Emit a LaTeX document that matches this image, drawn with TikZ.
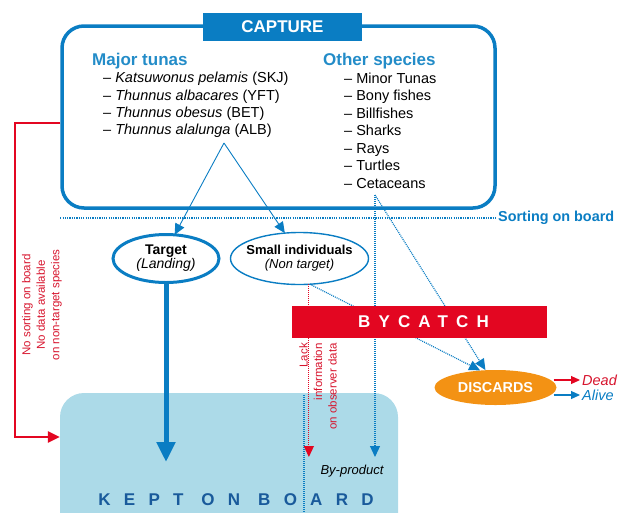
\documentclass[tikz,border=0pt]{standalone}
\usepackage{fontspec}
\setmainfont{Liberation Sans}
\usetikzlibrary{arrows.meta,shapes.geometric}

\definecolor{capblue}{RGB}{10,125,195}
\definecolor{headblue}{RGB}{35,140,200}
\definecolor{keptfill}{RGB}{172,218,232}
\definecolor{kepttext}{RGB}{25,90,155}
\definecolor{byred}{RGB}{227,6,33}
\definecolor{textred}{RGB}{215,20,45}
\definecolor{discorange}{RGB}{243,146,20}

\tikzset{
    head/.style={anchor=base west, inner sep=0, text=headblue, font=\fontsize{17}{20}\selectfont\bfseries},
    item/.style={anchor=base west, inner sep=0, font=\fontsize{14.5}{17}\selectfont},
    oval/.style={ellipse, draw=capblue, inner sep=0, outer sep=0},
    blueline/.style={capblue, line width=0.9pt, -{Triangle[length=11pt,width=10pt]}},
    dotblue/.style={capblue, line width=1.2pt, dash pattern=on 1pt off 1pt, -{Triangle[length=11pt,width=10pt]}},
    dotred/.style={byred, line width=1.2pt, dash pattern=on 1pt off 1pt, -{Triangle[length=11pt,width=10pt]}},
    redtext/.style={text=textred, rotate=90, inner sep=0, font=\fontsize{11.5}{14.5}\selectfont}
}

\begin{document}
\begin{tikzpicture}[x=1pt, y=-1pt]
    \useasboundingbox (0,0) rectangle (618,512);

    % kept on board
    \node[fill=keptfill, rounded corners=24, minimum width=338, minimum height=160, inner sep=0] (kept) at (229,473) {};
    \node[anchor=base, text=kepttext, font=\fontsize{17}{19}\selectfont\bfseries\addfontfeature{LetterSpace=78}] (keptlbl) at (236,505) {KEPT ON BOARD};
    \coordinate (divtop) at (304,395);
    \draw[dotblue, -] (divtop) -- (divtop |- kept.south);

    % capture box
    \node[draw=capblue, line width=3.5pt, rounded corners=22, minimum width=433, minimum height=182, inner sep=0] (capture) at (278.5,117) {};
    \node[fill=capblue, text=white, minimum width=159, minimum height=28, inner sep=0, font=\fontsize{17}{20}\selectfont\bfseries] (captitle) at (282.5,27) {CAPTURE};

    \node[head] (major) at (92,65) {Major tunas};
    \node[item] (skj) at (103,82.7) {-- \textit{Katsuwonus pelamis} (SKJ)};
    \node[item] (yft) at (103,100.1) {-- \textit{Thunnus albacares} (YFT)};
    \node[item] (bet) at (103,117.5) {-- \textit{Thunnus obesus} (BET)};
    \node[item] (alb) at (103,134.9) {-- \textit{Thunnus alalunga} (ALB)};

    \node[head] (other) at (323,65) {Other species};
    \foreach \sp [count=\i] in {Minor Tunas, Bony fishes, Billfishes, Sharks, Rays, Turtles, Cetaceans}
        \node[item] (sp\i) at (344, 65.7 + 17.5 * \i) {-- \sp};

    % sorting
    \node[anchor=west, inner sep=0, text=capblue, font=\fontsize{14.4}{17}\selectfont\bfseries] (sort) at (498,218) {Sorting on board};
    \draw[capblue, line width=1.4pt, dash pattern=on 1.2pt off 1.1pt] (sort.west -| capture.west) -- ([xshift=-3pt]sort.west);

    \node[oval, line width=3pt, minimum width=106, minimum height=48,
          label={[align=center, inner sep=0, font=\fontsize{14}{14}\selectfont]center:{\textbf{Target}\\\textit{(Landing)}}}] (target) at (166,258.5) {};
    \node[oval, line width=1.4pt, minimum width=138, minimum height=52,
          label={[align=center, inner sep=0, font=\fontsize{13}{14}\selectfont]center:{\textbf{Small individuals}\\\textit{(Non target)}}}] (small) at (299.5,258.5) {};

    \coordinate (split) at (224,143);
    \draw[blueline] (split) -- (target.70);
    \draw[blueline] (split) -- (small.120);

    \coordinate (keeptip) at (0,462);
    \draw[capblue, line width=5pt, -{Triangle[length=20pt,width=18pt]}] (target.south) -- (target.south |- keeptip);

    % discards
    \node[ellipse, fill=discorange, minimum width=122, minimum height=35, inner sep=0, text=white, font=\fontsize{14.4}{16}\selectfont\bfseries] (discards) at (495.5,387.5) {DISCARDS};
    \node[anchor=west, inner sep=2pt, text=textred, font=\fontsize{14.5}{16}\selectfont\itshape] (dead) at (580,380) {Dead};
    \node[anchor=west, inner sep=2pt, text=capblue, font=\fontsize{14.5}{16}\selectfont\itshape] (alive) at (580,395) {Alive};
    \draw[byred, line width=1.2pt, -{Triangle[length=9pt,width=8pt]}] ([xshift=-3pt]discards.east |- dead.west) -- (dead.west);
    \draw[capblue, line width=1.2pt, -{Triangle[length=9pt,width=8pt]}] ([xshift=-3pt]discards.east |- alive.west) -- (alive.west);

    % dotted flows
    \coordinate (cetfoot) at (375,195);
    \coordinate (bytip) at (0,457);
    \draw[dotblue] (cetfoot) -- (cetfoot |- bytip);
    \draw[dotblue] (cetfoot) -- (discards.120);
    \draw[dotred] (small.-70) -- (small.-70 |- bytip);
    \draw[dotblue] (small.-68) -- (discards.132);

    % bycatch
    \node[fill=byred, minimum width=255, minimum height=32, inner sep=0, text=white, font=\fontsize{17}{20}\selectfont\bfseries\addfontfeature{LetterSpace=48}] (bycatch) at (419.5,322) {\hspace*{8pt}BYCATCH};

    \node[redtext, align=right, anchor=east] (lack) at (318,343) {Lack\\information\\on observer data};
    \node[anchor=base, inner sep=0, font=\fontsize{13}{15}\selectfont\itshape] (byprod) at (352,474) {By-product};

    % no sorting
    \node[redtext, align=center] (nosort) at (42,305) {No sorting on board\\No data available\\on non-target species};
    \coordinate (rtop) at (15,123);
    \coordinate (rbot) at (15,437);
    \draw[byred, line width=2.5pt, -{Triangle[length=12pt,width=11pt]}] (capture.west |- rtop) -- (rtop) -- (rbot) -- (rbot -| kept.west);
\end{tikzpicture}
\end{document}
